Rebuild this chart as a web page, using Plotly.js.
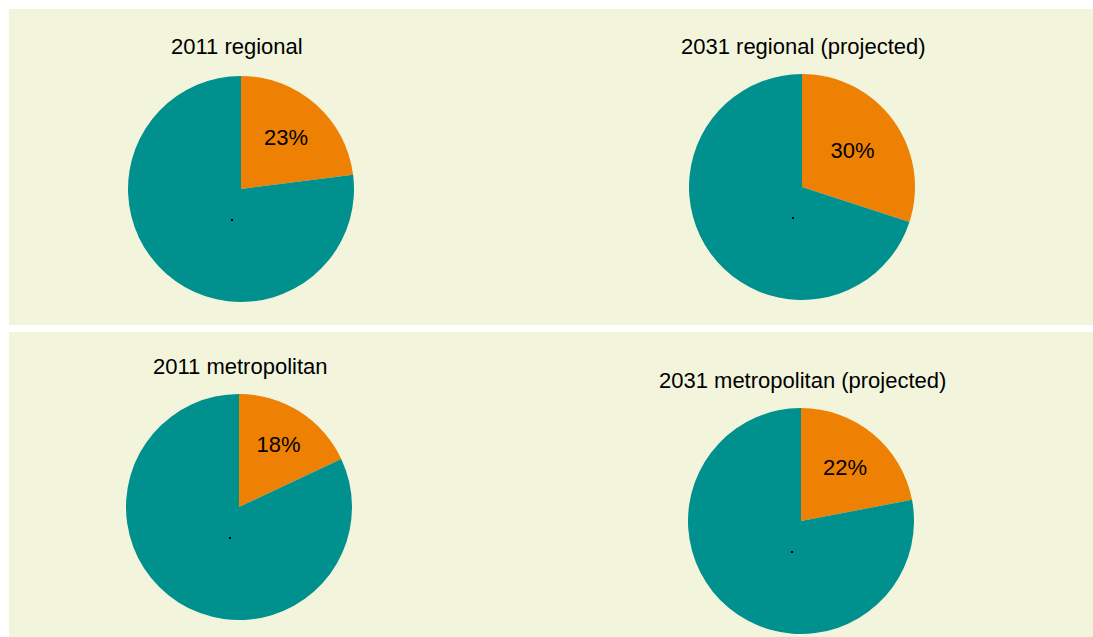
<!DOCTYPE html>
<html>
<head>
<meta charset="utf-8">
<script src="https://cdn.plot.ly/plotly-3.0.1.min.js"></script>
<style>html,body{margin:0;padding:0;background:#fff;}#chart{width:1093px;height:637px;}</style>
</head>
<body>
<div id="chart"></div>
<script>
// Data
const chartTitles = ["2011 regional", "2031 regional (projected)", "2011 metropolitan", "2031 metropolitan (projected)"];
const sliceNames = ["Share", "Rest"];
const share2011Regional = [23, 77];
const share2031Regional = [30, 70];
const share2011Metro = [18, 82];
const share2031Metro = [22, 78];
const sliceLabels2011Regional = ["23%", ""];
const sliceLabels2031Regional = ["30%", ""];
const sliceLabels2011Metro = ["18%", ""];
const sliceLabels2031Metro = ["22%", ""];

const W = 1093, H = 637;
const ORANGE = "#EE8104", TEAL = "#00908D", PANEL = "#F2F5DB";
const FONT = "Liberation Sans, Arial, sans-serif";

function px2x(p){ return p / W; }
function px2y(p){ return 1 - p / H; }
function dom(cx, cy, r){
  return { x: [px2x(cx - r), px2x(cx + r)], y: [px2y(cy + r), px2y(cy - r)] };
}

const centers = [[241, 189], [802, 187], [239, 507], [801, 521]];
const pies = [
  {vals: share2011Regional, txt: sliceLabels2011Regional},
  {vals: share2031Regional, txt: sliceLabels2031Regional},
  {vals: share2011Metro, txt: sliceLabels2011Metro},
  {vals: share2031Metro, txt: sliceLabels2031Metro}
];

const data = pies.map((p, i) => ({
  type: "pie",
  labels: sliceNames,
  values: p.vals,
  text: p.txt,
  textinfo: "text",
  textposition: "inside",
  insidetextorientation: "horizontal",
  textfont: {family: FONT, size: 22, color: "#000"},
  sort: false,
  direction: "clockwise",
  rotation: 0,
  marker: {colors: [ORANGE, TEAL], line: {width: 0}},
  domain: dom(centers[i][0], centers[i][1], 113),
  hoverinfo: "skip",
  showlegend: false
}));

const titlePos = [[237, 46], [803, 46], [240, 366], [802, 380]];
const annotations = chartTitles.map((t, i) => ({
  text: t, xref: "paper", yref: "paper",
  x: px2x(titlePos[i][0]), y: px2y(titlePos[i][1]),
  xanchor: "center", yanchor: "middle", showarrow: false,
  font: {family: FONT, size: 22, color: "#000"}
}));

const shapes = [
  {type: "rect", xref: "paper", yref: "paper", x0: px2x(9), x1: 1, y0: px2y(325), y1: px2y(9), fillcolor: PANEL, line: {width: 0}, layer: "below"},
  {type: "rect", xref: "paper", yref: "paper", x0: px2x(9), x1: 1, y0: 0, y1: px2y(332), fillcolor: PANEL, line: {width: 0}, layer: "below"}
];
// small centre markers seen in each pie
centers.forEach(c => {
  shapes.push({type: "rect", xref: "paper", yref: "paper",
    x0: px2x(c[0] - 10), x1: px2x(c[0] - 8), y0: px2y(c[1] + 32), y1: px2y(c[1] + 30),
    fillcolor: "#000", line: {width: 0}, layer: "above"});
});

Plotly.newPlot("chart", data, {
  width: W, height: H,
  margin: {l: 0, r: 0, t: 0, b: 0},
  paper_bgcolor: "#ffffff",
  plot_bgcolor: "rgba(0,0,0,0)",
  annotations, shapes,
  showlegend: false
}, {staticPlot: true, displayModeBar: false});
</script>
</body>
</html>
